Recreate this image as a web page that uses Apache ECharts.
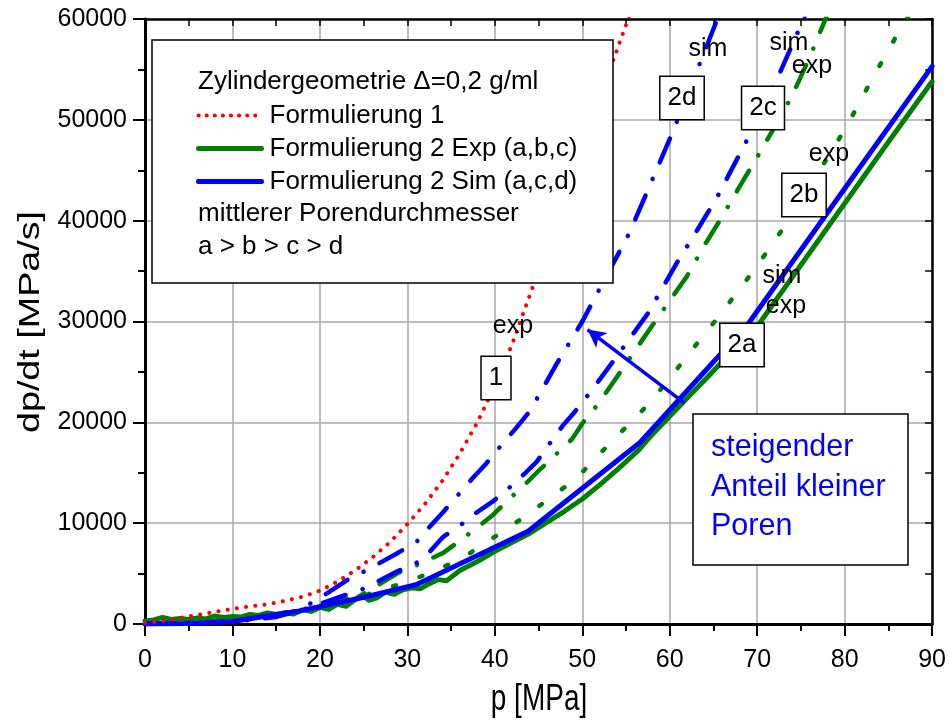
<!DOCTYPE html>
<html>
<head>
<meta charset="utf-8">
<title>dp/dt über p</title>
<script src="https://cdn.jsdelivr.net/npm/echarts@6/dist/echarts.min.js"></script>
<style>
html, body { margin: 0; padding: 0; background: #fff; }
#main { width: 949px; height: 721px; }
</style>
</head>
<body>
<div id="main"></div>
<script>
// Werte: [p in MPa, dp/dt in MPa/s]
var form1 = [[0,100],[2,300],[4,600],[6,900],[8,1200],[10,1500],[12,1750],[14,1950],[16,2300],[18,2700],[20,3300],[22,4200],[24,5300],[26,6600],[28,8100],[30,9900],[32,11900],[34,14200],[36,16900],[38,20000],[40,23600],[42,27800],[44,32600],[46,37500],[48,42400],[50,47300],[52,52200],[54,57000],[56,61800]];
var exp2a = [[0,300],[1,400],[2,650],[3,450],[4,550],[5,450],[6,600],[7,500],[8,800],[9,650],[10,750],[11,700],[12,950],[13,850],[14,1100],[15,950],[16,1100],[17,1000],[18,1400],[19,1250],[20,1650],[21,1450],[22,1950],[23,1750],[24,2400],[24.8,2900],[25.6,2350],[26.5,2600],[27.5,3150],[28.5,2950],[29.5,3400],[30.5,3600],[31.5,3500],[32.5,4000],[33.5,4400],[34.5,4300],[36,5300],[38,6200],[40,7200],[42,8100],[44,9000],[46,10100],[48,11200],[50,12400],[52,13800],[54,15300],[56.5,17300],[58,18800],[60,20600],[62,22400],[64,24200],[66,26000],[68,27800],[70,29500],[75,35600],[80,41700],[85,47800],[90,53800]];
var sim2a = [[0,0],[5,50],[10,250],[14.6,900],[17.7,1300],[25.3,2700],[31,3900],[43.8,9200],[56.6,18000],[69,29800],[81.5,45000],[90,55300]];
var exp2b = [[0,0],[5,200],[10,500],[15,1000],[20,1700],[25,2800],[30,4200],[33,5200],[36.2,6500],[38.7,7900],[41.4,9450],[44,11000],[46.6,12700],[49.3,14400],[51.8,16700],[54.4,19000],[56.9,21200],[59.4,23700],[62,26600],[65.7,30600],[69.9,35400],[73.5,39900],[77,44800],[80.2,49300],[83.2,54150],[86.3,58900],[88,61300]];
var exp2c = [[0,0],[5,150],[10,400],[15,900],[20,1700],[25,3000],[29,5100],[31,5800],[34.1,7050],[36.6,8650],[38.1,9650],[39.7,10750],[41.9,12600],[43.4,13800],[44.9,15100],[47.2,17000],[48.8,18300],[50.1,20000],[51.8,21800],[53,23300],[55,25800],[58,29600],[61.9,34400],[64,37600],[66,40400],[68,43400],[70,46300],[72,49300],[74,52400],[76,56200],[78,60400]];
var sim2c = [[0,0],[10,200],[15,700],[18,1400],[20,2000],[25,3500],[28.8,5200],[31.1,6100],[32.6,7200],[34.1,8650],[36.3,9950],[37.9,11050],[39.7,12100],[41.9,13700],[43.4,14900],[44.8,16100],[46.6,18300],[47.8,19700],[49.1,21000],[51.1,23200],[54,26600],[57.5,30800],[60.8,35800],[63.1,39000],[65.4,42300],[68.6,47600],[72,53500],[74.6,58600],[75.8,61000]];
var sim2d = [[0,0],[10,250],[15,800],[17.7,1400],[20.2,2700],[23.2,4400],[25.7,5500],[28.8,7000],[31,8100],[32.5,9600],[34,11000],[36,13000],[37.5,14500],[39,15900],[41,18000],[42.4,19400],[44,21100],[47,25700],[50,30000],[55.4,38800],[60.3,48700],[65.4,59900],[66,61200]];
// Pfeil "steigender Anteil kleiner Poren": [Start, Spitze]
var arrowFrom = [61.7, 21900];
var arrowTo = [50.6, 29200];

var xTicks = [0, 90, 10];
var yTicks = [0, 60000, 10000];

var FONT = "'Liberation Sans', Arial, sans-serif";
var BLUE = '#0000ff', GREEN = '#008000', RED = '#ff0000';
var DOTS = [0.1, 9.2], SHORT = [3, 25], DASHDOT = [24, 18, 0.1, 18], DASHDOT_D = [26, 18, 0.1, 18];

var chart = echarts.init(document.getElementById('main'));

function lineSeries(name, data, color, width, dash, z) {
	return {
		name: name,
		type: 'line',
		data: data,
		symbol: 'none',
		showSymbol: false,
		smooth: false,
		z: z,
		lineStyle: { color: color, width: width, type: dash, cap: 'round', join: 'round' },
		itemStyle: { color: color }
	};
}

function boxLabel(text, x, y) {
	return {
		type: 'text', x: x, y: y, z: 110,
		style: {
			text: text, font: '26px ' + FONT, fill: '#000',
			align: 'center', verticalAlign: 'middle',
			backgroundColor: '#fff', borderColor: '#000', borderWidth: 1.5,
			padding: [9, 7, 7, 7]
		}
	};
}
function plainLabel(text, x, y) {
	return {
		type: 'text', x: x, y: y, z: 105,
		style: { text: text, font: '25px ' + FONT, fill: '#000', align: 'center', verticalAlign: 'middle' }
	};
}
function legendItem(name, color, width, dash) {
	return {
		name: name,
		itemStyle: { opacity: 0, borderWidth: 0 },
		lineStyle: { color: color, width: width, type: dash, cap: 'round' }
	};
}

var seriesList = [
	lineSeries('Exp b', exp2b, GREEN, 4.5, SHORT, 2),
	lineSeries('Exp c', exp2c, GREEN, 4.5, DASHDOT, 2),
	lineSeries('Formulierung 2 Exp (a,b,c)', exp2a, GREEN, 5, 'solid', 3),
	lineSeries('Sim c', sim2c, BLUE, 4.5, DASHDOT, 4),
	lineSeries('Sim d', sim2d, BLUE, 4.5, DASHDOT_D, 4),
	lineSeries('Formulierung 2 Sim (a,c,d)', sim2a, BLUE, 5, 'solid', 5),
	lineSeries('Formulierung 1', form1, RED, 4, DOTS, 6)
];
seriesList[5].markLine = {
	silent: true,
	symbol: ['none', 'arrow'],
	symbolSize: [14, 18],
	label: { show: false },
	lineStyle: { color: BLUE, width: 3.5, type: 'solid' },
	data: [[{ coord: arrowFrom }, { coord: arrowTo }]]
};

var option = {
	animation: false,
	backgroundColor: '#fff',
	textStyle: { fontFamily: FONT },
	grid: { left: 145, right: 16, top: 19, bottom: 97, containLabel: false },
	legend: {
		data: [
			legendItem('Formulierung 1', RED, 4, [0.1, 8]),
			legendItem('Formulierung 2 Exp (a,b,c)', GREEN, 5, 'solid'),
			legendItem('Formulierung 2 Sim (a,c,d)', BLUE, 5, 'solid')
		],
		orient: 'vertical',
		left: 196, top: 99,
		padding: 0,
		itemGap: 0,
		itemWidth: 63,
		itemHeight: 14,
		selectedMode: false,
		z: 120,
		itemStyle: { opacity: 0 },
		textStyle: { fontSize: 26, lineHeight: 33, color: '#000', fontFamily: FONT, padding: [0, 0, 0, 3] }
	},
	xAxis: [{
		type: 'value', position: 'bottom',
		min: xTicks[0], max: xTicks[1], interval: xTicks[2],
		axisLine: { show: true, onZero: false, lineStyle: { color: '#000', width: 3 } },
		axisTick: { show: true, inside: false, length: 12, lineStyle: { color: '#000', width: 2 } },
		minorTick: { show: true, splitNumber: 2, length: 7, lineStyle: { color: '#000', width: 2 } },
		axisLabel: { fontSize: 25, color: '#000', margin: 24, fontFamily: FONT },
		splitLine: { show: true, lineStyle: { color: '#a8a8a8', width: 1.5 } }
	}, {
		type: 'value', position: 'top',
		min: xTicks[0], max: xTicks[1], interval: xTicks[2] / 2,
		axisLine: { show: true, onZero: false, lineStyle: { color: '#000', width: 2.5 } },
		axisTick: { show: true, inside: true, length: 7, lineStyle: { color: '#000', width: 1.5 } },
		axisLabel: { show: false },
		splitLine: { show: false }
	}],
	yAxis: [{
		type: 'value', position: 'left',
		min: yTicks[0], max: yTicks[1], interval: yTicks[2],
		axisLine: { show: true, onZero: false, lineStyle: { color: '#000', width: 3 } },
		axisTick: { show: true, inside: false, length: 12, lineStyle: { color: '#000', width: 2 } },
		minorTick: { show: true, splitNumber: 2, length: 7, lineStyle: { color: '#000', width: 2 } },
		axisLabel: { fontSize: 25, color: '#000', margin: 18, fontFamily: FONT, formatter: function (v) { return String(v); } },
		splitLine: { show: true, lineStyle: { color: '#a8a8a8', width: 1.5 } }
	}, {
		type: 'value', position: 'right',
		min: yTicks[0], max: yTicks[1], interval: yTicks[2] / 2,
		axisLine: { show: true, onZero: false, lineStyle: { color: '#000', width: 2.5 } },
		axisTick: { show: true, inside: true, length: 7, lineStyle: { color: '#000', width: 1.5 } },
		axisLabel: { show: false },
		splitLine: { show: false }
	}],
	series: seriesList,
	graphic: [
		// Achsentitel (im Original hoch gestreckte Schrift)
		{
			type: 'text', x: 31, y: 322, rotation: Math.PI / 2, scaleX: 1.3, z: 100,
			style: { text: 'dp/dt [MPa/s]', font: '29px ' + FONT, fill: '#000', align: 'center', verticalAlign: 'middle' }
		},
		{
			type: 'text', x: 539, y: 700, scaleY: 1.3, z: 100,
			style: { text: 'p [MPa]', font: '28px ' + FONT, fill: '#000', align: 'center', verticalAlign: 'middle' }
		},
		// Legendenkasten
		{
			type: 'rect', z: 100,
			shape: { x: 152, y: 40, width: 461, height: 243 },
			style: { fill: '#fff', stroke: '#000', lineWidth: 1.5 }
		},
		{
			type: 'text', x: 198, y: 82, z: 105,
			style: { text: 'Zylindergeometrie \u0394=0,2 g/ml', font: '26px ' + FONT, fill: '#000', verticalAlign: 'middle' }
		},
		{
			type: 'text', x: 198, y: 214, z: 105,
			style: { text: 'mittlerer Porendurchmesser', font: '26px ' + FONT, fill: '#000', verticalAlign: 'middle' }
		},
		{
			type: 'text', x: 198, y: 247, z: 105,
			style: { text: 'a > b > c > d', font: '26px ' + FONT, fill: '#000', verticalAlign: 'middle' }
		},
		// Kasten "steigender Anteil kleiner Poren"
		{
			type: 'rect', z: 100,
			shape: { x: 693, y: 414, width: 215, height: 151 },
			style: { fill: '#fff', stroke: '#000', lineWidth: 1.5 }
		},
		{
			type: 'text', x: 711, y: 448, z: 105,
			style: { text: 'steigender', font: '30.5px ' + FONT, fill: BLUE, verticalAlign: 'middle' }
		},
		{
			type: 'text', x: 711, y: 488, z: 105,
			style: { text: 'Anteil kleiner', font: '30.5px ' + FONT, fill: BLUE, verticalAlign: 'middle' }
		},
		{
			type: 'text', x: 711, y: 527, z: 105,
			style: { text: 'Poren', font: '30.5px ' + FONT, fill: BLUE, verticalAlign: 'middle' }
		},
		// Kurvenbeschriftungen
		boxLabel('1', 496, 378),
		boxLabel('2d', 682, 98),
		boxLabel('2c', 763, 108),
		boxLabel('2b', 804, 195),
		boxLabel('2a', 742, 345),
		plainLabel('exp', 513, 326),
		plainLabel('sim', 708, 49),
		plainLabel('sim', 789, 43),
		plainLabel('exp', 812, 66),
		plainLabel('exp', 829, 154),
		plainLabel('sim', 782, 276),
		plainLabel('exp', 786, 306)
	]
};

chart.setOption(option);
</script>
</body>
</html>
